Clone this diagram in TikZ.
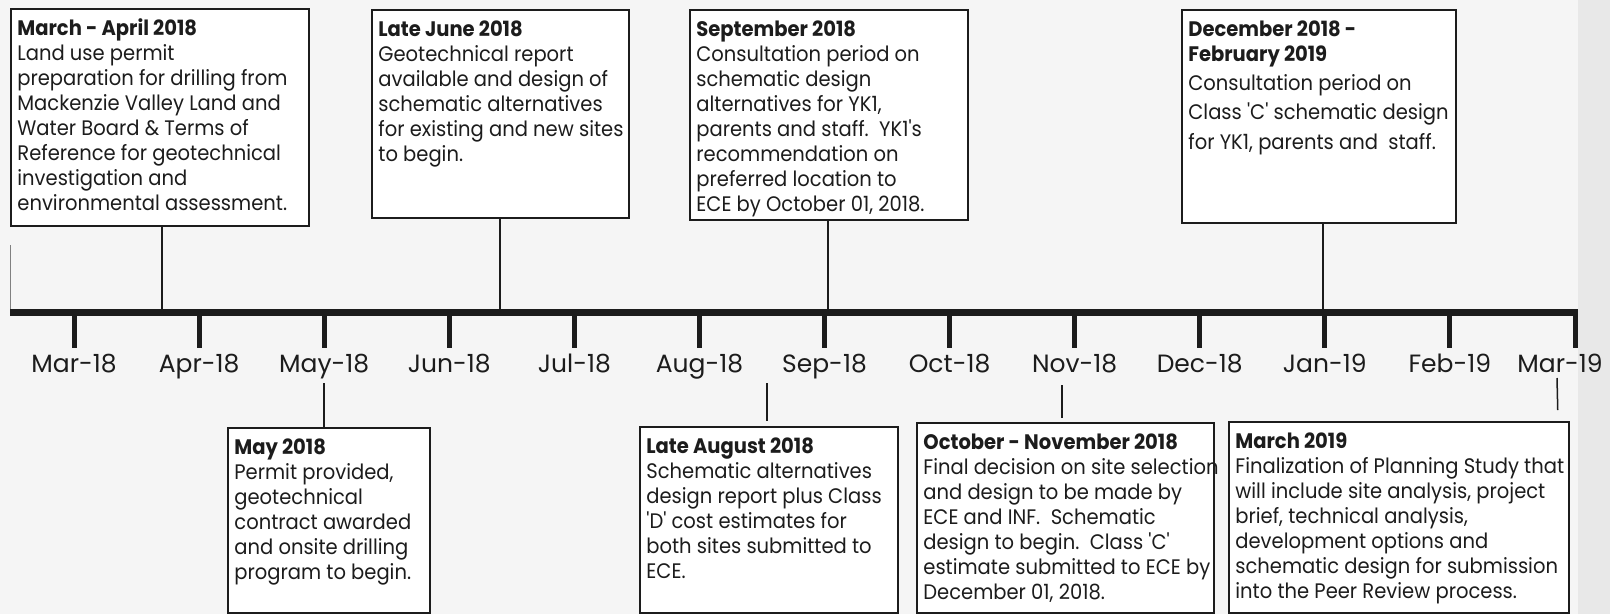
\documentclass[tikz,border=0pt]{standalone}
\usepackage{fontspec}
\newfontfamily\gothic{Poppins}[FakeStretch=0.93]
\newfontfamily\gothiclab{Poppins}
\definecolor{ink}{HTML}{1C1C1C}
\definecolor{bgc}{HTML}{F5F5F5}
\definecolor{edgec}{HTML}{E8E8E8}
\newcommand{\evtext}[3]{%
  \begin{minipage}[t][#2][t]{#1}\gothic\fontsize{21}{25}\selectfont
  \begin{tabular}[t]{@{}l@{}}#3\end{tabular}\end{minipage}}
\newcommand{\ttl}[1]{\rule{0pt}{26.5pt}\textbf{#1}}
\tikzset{
  evbox/.style={draw=ink, line width=1.8pt, fill=white, inner xsep=6.5pt, inner ysep=0pt, anchor=north west, text=ink},
  conn/.style={draw=ink, line width=1.8pt},
  lowconn/.style={draw=ink, line width=1.5pt},
  axisline/.style={draw=ink, line width=7pt},
  tickline/.style={draw=ink, line width=5pt},
  monthlab/.style={font=\gothiclab\fontsize{25}{28}\selectfont, text=ink, anchor=base, inner sep=0pt}
}
\begin{document}
\begin{tikzpicture}[x=1pt, y=-1pt]
\useasboundingbox (0,0) rectangle (1610,614);
\fill[bgc] (0,0) rectangle (1610,614);
\fill[edgec] (1578,0) rectangle (1610,614);

% upper boxes
\node[evbox] (b1) at (10,8) {\evtext{285pt}{217pt}{\ttl{March - April 2018}\\
Land use permit\\
preparation for drilling from\\
Mackenzie Valley Land and\\
Water Board \& Terms of\\
Reference for geotechnical\\
investigation and\\
environmental assessment.}};

\node[evbox] (b2) at (371,9) {\evtext{244pt}{208pt}{\ttl{Late June 2018}\\
Geotechnical report\\
available and design of\\
schematic alternatives\\
for existing and new sites\\
to begin.}};

\node[evbox] (b3) at (689,9) {\evtext{265pt}{210pt}{\ttl{September 2018}\\
Consultation period on\\
schematic design\\
alternatives for YK1,\\
parents and staff.\ \ YK1's\\
recommendation on\\
preferred location to\\
ECE by October 01, 2018.}};

\node[evbox] (b4) at (1181,9) {\evtext{261pt}{213pt}{\ttl{December 2018 -}\\
\textbf{February 2019}\\[4pt]
Consultation period on\\[4pt]
Class 'C' schematic design\\[5pt]
for YK1, parents and\ \ staff.}};

% lower boxes
\node[evbox] (b5) at (227,427) {\evtext{189pt}{185pt}{\ttl{May 2018}\\
Permit provided,\\
geotechnical\\
contract awarded\\
and onsite drilling\\
program to begin.}};

\node[evbox] (b6) at (639,426) {\evtext{245pt}{186pt}{\ttl{Late August 2018}\\
Schematic alternatives\\
design report plus Class\\
'D' cost estimates for\\
both sites submitted to\\
ECE.}};

\node[evbox] (b7) at (916,422) {\evtext{284pt}{190pt}{\ttl{October - November 2018}\\
Final decision on site selection\\
and design to be made by\\
ECE and INF.\ \ Schematic\\
design to begin.\ \ Class 'C'\\
estimate submitted to ECE by\\
December 01, 2018.}};

\node[evbox] (b8) at (1228,421) {\evtext{327pt}{191pt}{\ttl{March 2019}\\
Finalization of Planning Study that\\
will include site analysis, project\\
brief, technical analysis,\\
development options and\\
schematic design for submission\\
into the Peer Review process.}};

% axis anchor points for upper connectors
\coordinate (a1) at (162,312);
\coordinate (a2) at (500,312);
\coordinate (a3) at (828,312);
\coordinate (a4) at (1323,312);
\draw[conn] (b1.south -| a1) -- (a1);
\draw[conn] (b2.south -| a2) -- (a2);
\draw[conn] (b3.south -| a3) -- (a3);
\draw[conn] (b4.south -| a4) -- (a4);

% small mark at left end
\coordinate (e0) at (10,245);
\coordinate (e1) at (10,310);
\draw[gray, line width=0.8pt] (e0) -- (e1);

% axis
\coordinate (axL) at (10,312.5);
\coordinate (axR) at (1577.5,312.5);
\draw[axisline] (axL) -- (axR);

% ticks and month labels
\foreach \i/\m in {0/Mar-18,1/Apr-18,2/May-18,3/Jun-18,4/Jul-18,5/Aug-18,6/Sep-18,7/Oct-18,8/Nov-18,9/Dec-18,10/Jan-19,11/Feb-19}{
  \coordinate (t\i) at ({74+125.08*\i},312);
  \coordinate (u\i) at ({74+125.08*\i},348);
  \draw[tickline] (t\i) -- (u\i);
  \node[monthlab] (l\i) at ({74+125.08*\i},372.5) {\m};
}
\coordinate (t12) at (1575,312);
\coordinate (u12) at (1575,348);
\draw[tickline] (t12) -- (u12);
\node[monthlab] (l12) at (1560,372.5) {Mar-19};

% lower connectors
\coordinate (c5) at (324,383);
\coordinate (c6) at (767,383);
\coordinate (c7) at (1062,385);
\coordinate (c8) at (1557,378);
\draw[lowconn] (c5) -- (b5.north -| c5);
\draw[lowconn, shorten >=5pt] (c6) -- (b6.north -| c6);
\draw[lowconn, shorten >=4pt] (c7) -- (b7.north -| c7);
\draw[lowconn, shorten >=11pt] (c8) -- ([xshift=1pt]b8.north -| c8);
\end{tikzpicture}
\end{document}
